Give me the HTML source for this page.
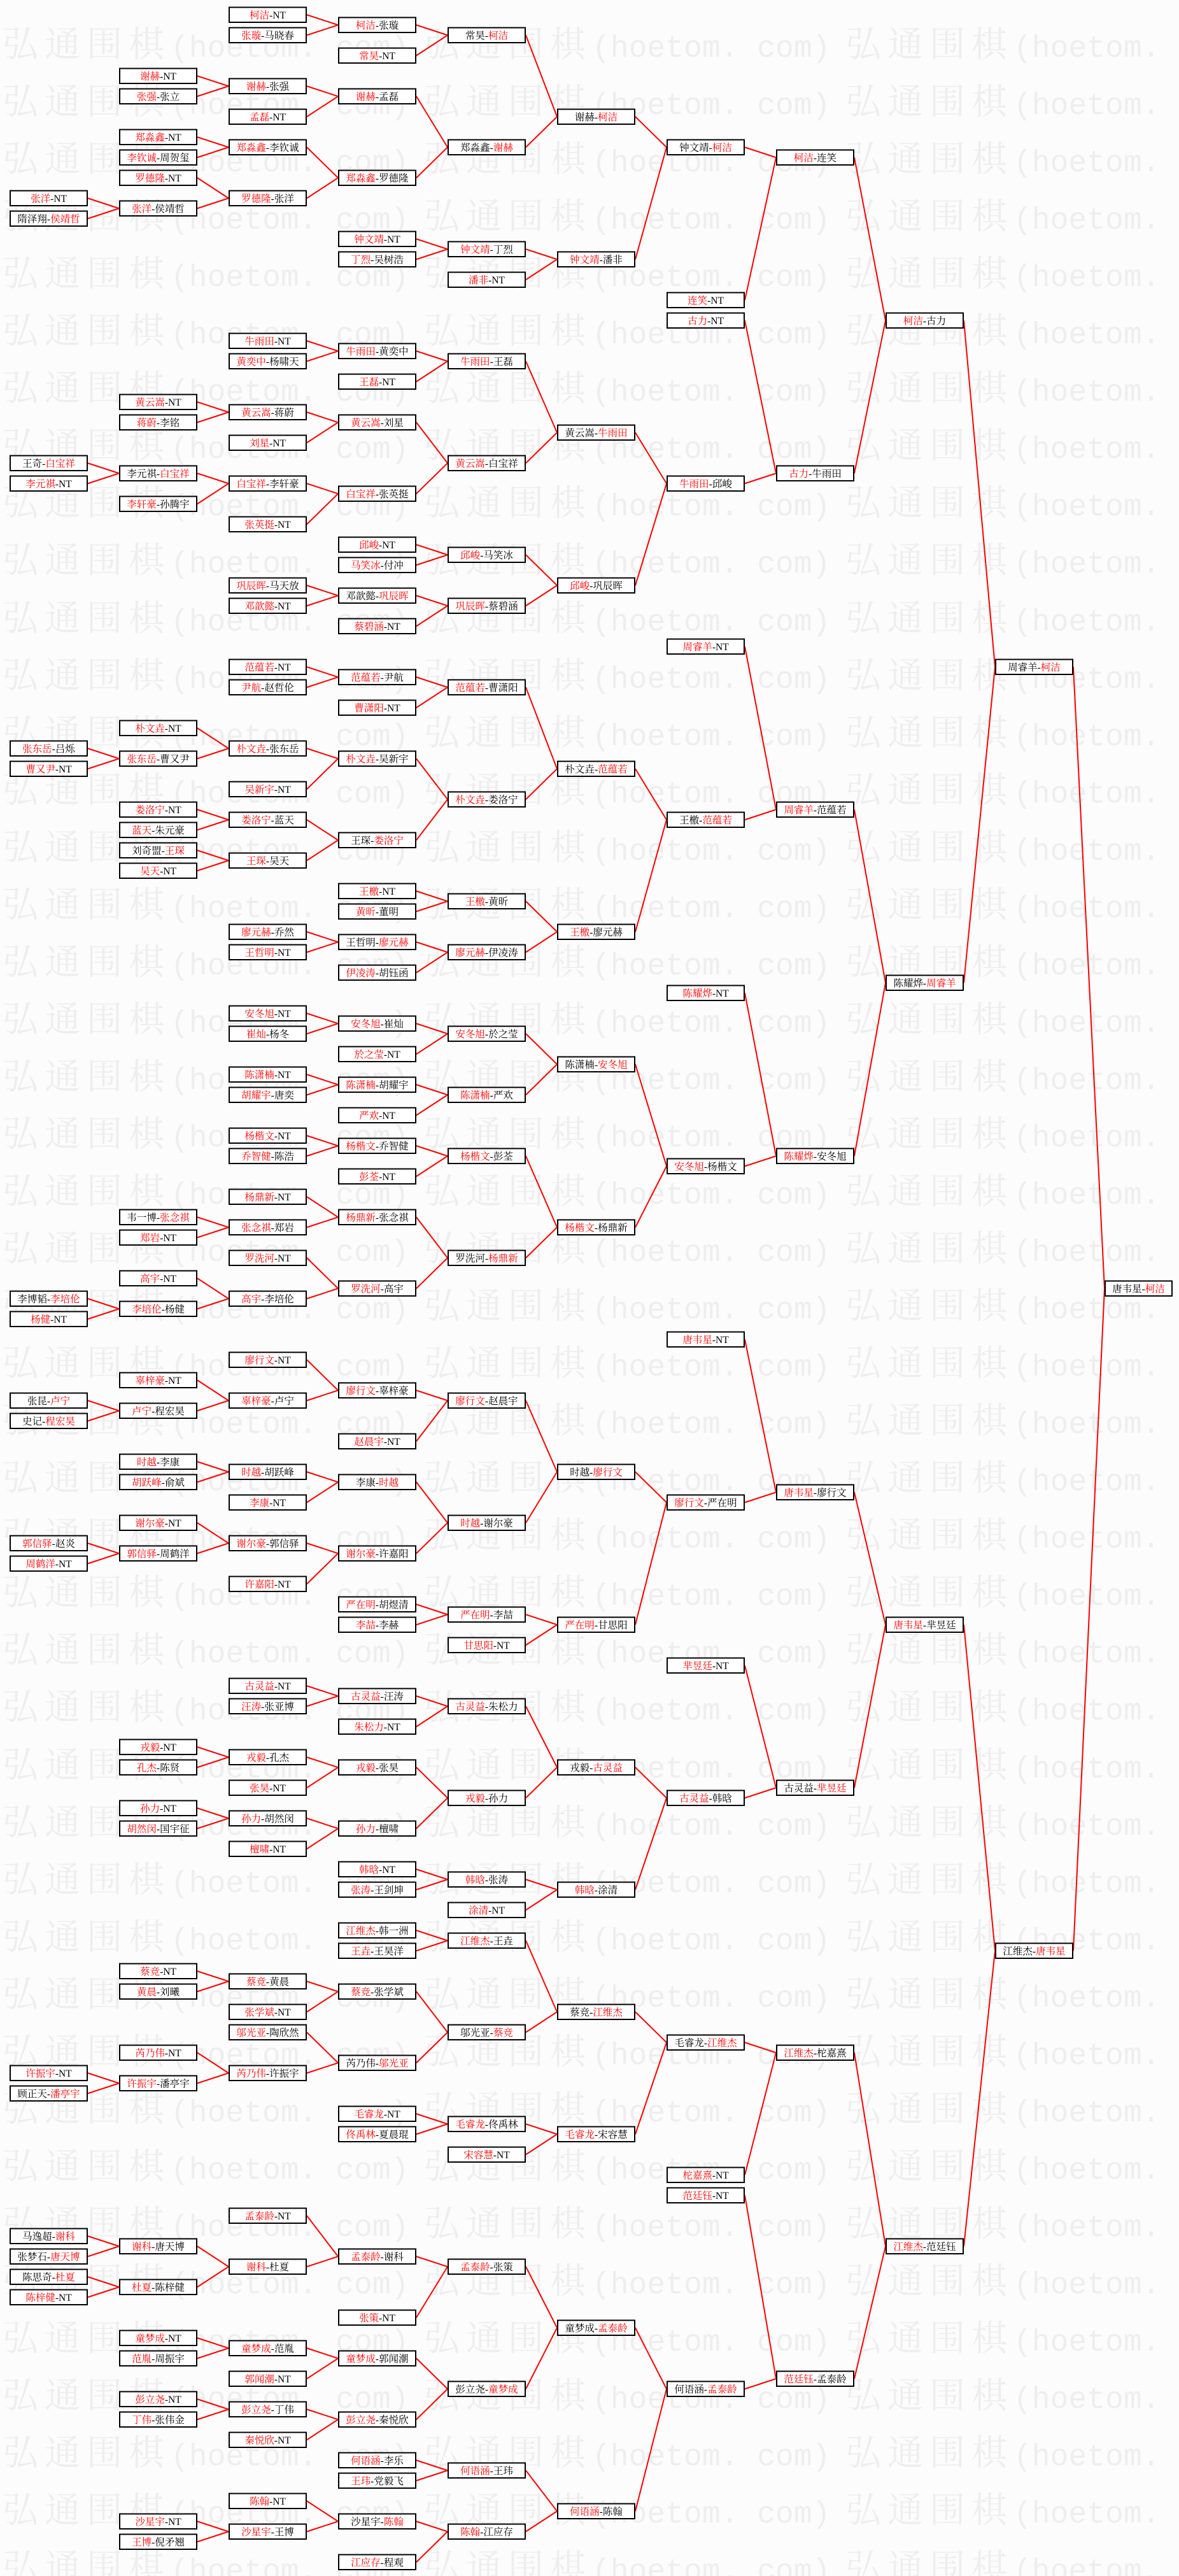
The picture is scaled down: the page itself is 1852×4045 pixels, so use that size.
<!DOCTYPE html>
<html><head><meta charset="utf-8"><style>
html,body{margin:0;padding:0;background:#fcfcfc;}
svg{display:block;}
.w{fill:#eeeeee;font-family:"Noto Serif CJK SC",serif;font-size:56px;}
.m{font-family:"Liberation Mono",monospace;font-size:48px;}
.t text{font-family:"Liberation Serif","Noto Serif CJK SC",serif;font-size:15.5px;text-anchor:middle;fill:#000;}
.t rect{fill:#fff;stroke:#000;stroke-width:2;}
.r{fill:#f00;}
</style></head><body>
<svg width="1852" height="4045" viewBox="0 0 1852 4045" xmlns="http://www.w3.org/2000/svg">
<rect x="0" y="0" width="1852" height="4045" fill="#fcfcfc"/>
<g class="w">
<text y="89"><tspan x="4 70 136 202">弘通围棋</tspan><tspan x="268" class="m">(hoetom. com)</tspan><tspan x="666 732 798 864">弘通围棋</tspan><tspan x="930" class="m">(hoetom. com)</tspan><tspan x="1328 1394 1460 1526">弘通围棋</tspan><tspan x="1592" class="m">(hoetom. com)</tspan></text>
<text y="179"><tspan x="4 70 136 202">弘通围棋</tspan><tspan x="268" class="m">(hoetom. com)</tspan><tspan x="666 732 798 864">弘通围棋</tspan><tspan x="930" class="m">(hoetom. com)</tspan><tspan x="1328 1394 1460 1526">弘通围棋</tspan><tspan x="1592" class="m">(hoetom. com)</tspan></text>
<text y="269"><tspan x="4 70 136 202">弘通围棋</tspan><tspan x="268" class="m">(hoetom. com)</tspan><tspan x="666 732 798 864">弘通围棋</tspan><tspan x="930" class="m">(hoetom. com)</tspan><tspan x="1328 1394 1460 1526">弘通围棋</tspan><tspan x="1592" class="m">(hoetom. com)</tspan></text>
<text y="359"><tspan x="4 70 136 202">弘通围棋</tspan><tspan x="268" class="m">(hoetom. com)</tspan><tspan x="666 732 798 864">弘通围棋</tspan><tspan x="930" class="m">(hoetom. com)</tspan><tspan x="1328 1394 1460 1526">弘通围棋</tspan><tspan x="1592" class="m">(hoetom. com)</tspan></text>
<text y="449"><tspan x="4 70 136 202">弘通围棋</tspan><tspan x="268" class="m">(hoetom. com)</tspan><tspan x="666 732 798 864">弘通围棋</tspan><tspan x="930" class="m">(hoetom. com)</tspan><tspan x="1328 1394 1460 1526">弘通围棋</tspan><tspan x="1592" class="m">(hoetom. com)</tspan></text>
<text y="539"><tspan x="4 70 136 202">弘通围棋</tspan><tspan x="268" class="m">(hoetom. com)</tspan><tspan x="666 732 798 864">弘通围棋</tspan><tspan x="930" class="m">(hoetom. com)</tspan><tspan x="1328 1394 1460 1526">弘通围棋</tspan><tspan x="1592" class="m">(hoetom. com)</tspan></text>
<text y="629"><tspan x="4 70 136 202">弘通围棋</tspan><tspan x="268" class="m">(hoetom. com)</tspan><tspan x="666 732 798 864">弘通围棋</tspan><tspan x="930" class="m">(hoetom. com)</tspan><tspan x="1328 1394 1460 1526">弘通围棋</tspan><tspan x="1592" class="m">(hoetom. com)</tspan></text>
<text y="719"><tspan x="4 70 136 202">弘通围棋</tspan><tspan x="268" class="m">(hoetom. com)</tspan><tspan x="666 732 798 864">弘通围棋</tspan><tspan x="930" class="m">(hoetom. com)</tspan><tspan x="1328 1394 1460 1526">弘通围棋</tspan><tspan x="1592" class="m">(hoetom. com)</tspan></text>
<text y="809"><tspan x="4 70 136 202">弘通围棋</tspan><tspan x="268" class="m">(hoetom. com)</tspan><tspan x="666 732 798 864">弘通围棋</tspan><tspan x="930" class="m">(hoetom. com)</tspan><tspan x="1328 1394 1460 1526">弘通围棋</tspan><tspan x="1592" class="m">(hoetom. com)</tspan></text>
<text y="899"><tspan x="4 70 136 202">弘通围棋</tspan><tspan x="268" class="m">(hoetom. com)</tspan><tspan x="666 732 798 864">弘通围棋</tspan><tspan x="930" class="m">(hoetom. com)</tspan><tspan x="1328 1394 1460 1526">弘通围棋</tspan><tspan x="1592" class="m">(hoetom. com)</tspan></text>
<text y="990"><tspan x="4 70 136 202">弘通围棋</tspan><tspan x="268" class="m">(hoetom. com)</tspan><tspan x="666 732 798 864">弘通围棋</tspan><tspan x="930" class="m">(hoetom. com)</tspan><tspan x="1328 1394 1460 1526">弘通围棋</tspan><tspan x="1592" class="m">(hoetom. com)</tspan></text>
<text y="1080"><tspan x="4 70 136 202">弘通围棋</tspan><tspan x="268" class="m">(hoetom. com)</tspan><tspan x="666 732 798 864">弘通围棋</tspan><tspan x="930" class="m">(hoetom. com)</tspan><tspan x="1328 1394 1460 1526">弘通围棋</tspan><tspan x="1592" class="m">(hoetom. com)</tspan></text>
<text y="1170"><tspan x="4 70 136 202">弘通围棋</tspan><tspan x="268" class="m">(hoetom. com)</tspan><tspan x="666 732 798 864">弘通围棋</tspan><tspan x="930" class="m">(hoetom. com)</tspan><tspan x="1328 1394 1460 1526">弘通围棋</tspan><tspan x="1592" class="m">(hoetom. com)</tspan></text>
<text y="1260"><tspan x="4 70 136 202">弘通围棋</tspan><tspan x="268" class="m">(hoetom. com)</tspan><tspan x="666 732 798 864">弘通围棋</tspan><tspan x="930" class="m">(hoetom. com)</tspan><tspan x="1328 1394 1460 1526">弘通围棋</tspan><tspan x="1592" class="m">(hoetom. com)</tspan></text>
<text y="1350"><tspan x="4 70 136 202">弘通围棋</tspan><tspan x="268" class="m">(hoetom. com)</tspan><tspan x="666 732 798 864">弘通围棋</tspan><tspan x="930" class="m">(hoetom. com)</tspan><tspan x="1328 1394 1460 1526">弘通围棋</tspan><tspan x="1592" class="m">(hoetom. com)</tspan></text>
<text y="1440"><tspan x="4 70 136 202">弘通围棋</tspan><tspan x="268" class="m">(hoetom. com)</tspan><tspan x="666 732 798 864">弘通围棋</tspan><tspan x="930" class="m">(hoetom. com)</tspan><tspan x="1328 1394 1460 1526">弘通围棋</tspan><tspan x="1592" class="m">(hoetom. com)</tspan></text>
<text y="1530"><tspan x="4 70 136 202">弘通围棋</tspan><tspan x="268" class="m">(hoetom. com)</tspan><tspan x="666 732 798 864">弘通围棋</tspan><tspan x="930" class="m">(hoetom. com)</tspan><tspan x="1328 1394 1460 1526">弘通围棋</tspan><tspan x="1592" class="m">(hoetom. com)</tspan></text>
<text y="1620"><tspan x="4 70 136 202">弘通围棋</tspan><tspan x="268" class="m">(hoetom. com)</tspan><tspan x="666 732 798 864">弘通围棋</tspan><tspan x="930" class="m">(hoetom. com)</tspan><tspan x="1328 1394 1460 1526">弘通围棋</tspan><tspan x="1592" class="m">(hoetom. com)</tspan></text>
<text y="1710"><tspan x="4 70 136 202">弘通围棋</tspan><tspan x="268" class="m">(hoetom. com)</tspan><tspan x="666 732 798 864">弘通围棋</tspan><tspan x="930" class="m">(hoetom. com)</tspan><tspan x="1328 1394 1460 1526">弘通围棋</tspan><tspan x="1592" class="m">(hoetom. com)</tspan></text>
<text y="1800"><tspan x="4 70 136 202">弘通围棋</tspan><tspan x="268" class="m">(hoetom. com)</tspan><tspan x="666 732 798 864">弘通围棋</tspan><tspan x="930" class="m">(hoetom. com)</tspan><tspan x="1328 1394 1460 1526">弘通围棋</tspan><tspan x="1592" class="m">(hoetom. com)</tspan></text>
<text y="1890"><tspan x="4 70 136 202">弘通围棋</tspan><tspan x="268" class="m">(hoetom. com)</tspan><tspan x="666 732 798 864">弘通围棋</tspan><tspan x="930" class="m">(hoetom. com)</tspan><tspan x="1328 1394 1460 1526">弘通围棋</tspan><tspan x="1592" class="m">(hoetom. com)</tspan></text>
<text y="1980"><tspan x="4 70 136 202">弘通围棋</tspan><tspan x="268" class="m">(hoetom. com)</tspan><tspan x="666 732 798 864">弘通围棋</tspan><tspan x="930" class="m">(hoetom. com)</tspan><tspan x="1328 1394 1460 1526">弘通围棋</tspan><tspan x="1592" class="m">(hoetom. com)</tspan></text>
<text y="2070"><tspan x="4 70 136 202">弘通围棋</tspan><tspan x="268" class="m">(hoetom. com)</tspan><tspan x="666 732 798 864">弘通围棋</tspan><tspan x="930" class="m">(hoetom. com)</tspan><tspan x="1328 1394 1460 1526">弘通围棋</tspan><tspan x="1592" class="m">(hoetom. com)</tspan></text>
<text y="2160"><tspan x="4 70 136 202">弘通围棋</tspan><tspan x="268" class="m">(hoetom. com)</tspan><tspan x="666 732 798 864">弘通围棋</tspan><tspan x="930" class="m">(hoetom. com)</tspan><tspan x="1328 1394 1460 1526">弘通围棋</tspan><tspan x="1592" class="m">(hoetom. com)</tspan></text>
<text y="2250"><tspan x="4 70 136 202">弘通围棋</tspan><tspan x="268" class="m">(hoetom. com)</tspan><tspan x="666 732 798 864">弘通围棋</tspan><tspan x="930" class="m">(hoetom. com)</tspan><tspan x="1328 1394 1460 1526">弘通围棋</tspan><tspan x="1592" class="m">(hoetom. com)</tspan></text>
<text y="2340"><tspan x="4 70 136 202">弘通围棋</tspan><tspan x="268" class="m">(hoetom. com)</tspan><tspan x="666 732 798 864">弘通围棋</tspan><tspan x="930" class="m">(hoetom. com)</tspan><tspan x="1328 1394 1460 1526">弘通围棋</tspan><tspan x="1592" class="m">(hoetom. com)</tspan></text>
<text y="2430"><tspan x="4 70 136 202">弘通围棋</tspan><tspan x="268" class="m">(hoetom. com)</tspan><tspan x="666 732 798 864">弘通围棋</tspan><tspan x="930" class="m">(hoetom. com)</tspan><tspan x="1328 1394 1460 1526">弘通围棋</tspan><tspan x="1592" class="m">(hoetom. com)</tspan></text>
<text y="2520"><tspan x="4 70 136 202">弘通围棋</tspan><tspan x="268" class="m">(hoetom. com)</tspan><tspan x="666 732 798 864">弘通围棋</tspan><tspan x="930" class="m">(hoetom. com)</tspan><tspan x="1328 1394 1460 1526">弘通围棋</tspan><tspan x="1592" class="m">(hoetom. com)</tspan></text>
<text y="2610"><tspan x="4 70 136 202">弘通围棋</tspan><tspan x="268" class="m">(hoetom. com)</tspan><tspan x="666 732 798 864">弘通围棋</tspan><tspan x="930" class="m">(hoetom. com)</tspan><tspan x="1328 1394 1460 1526">弘通围棋</tspan><tspan x="1592" class="m">(hoetom. com)</tspan></text>
<text y="2700"><tspan x="4 70 136 202">弘通围棋</tspan><tspan x="268" class="m">(hoetom. com)</tspan><tspan x="666 732 798 864">弘通围棋</tspan><tspan x="930" class="m">(hoetom. com)</tspan><tspan x="1328 1394 1460 1526">弘通围棋</tspan><tspan x="1592" class="m">(hoetom. com)</tspan></text>
<text y="2791"><tspan x="4 70 136 202">弘通围棋</tspan><tspan x="268" class="m">(hoetom. com)</tspan><tspan x="666 732 798 864">弘通围棋</tspan><tspan x="930" class="m">(hoetom. com)</tspan><tspan x="1328 1394 1460 1526">弘通围棋</tspan><tspan x="1592" class="m">(hoetom. com)</tspan></text>
<text y="2881"><tspan x="4 70 136 202">弘通围棋</tspan><tspan x="268" class="m">(hoetom. com)</tspan><tspan x="666 732 798 864">弘通围棋</tspan><tspan x="930" class="m">(hoetom. com)</tspan><tspan x="1328 1394 1460 1526">弘通围棋</tspan><tspan x="1592" class="m">(hoetom. com)</tspan></text>
<text y="2971"><tspan x="4 70 136 202">弘通围棋</tspan><tspan x="268" class="m">(hoetom. com)</tspan><tspan x="666 732 798 864">弘通围棋</tspan><tspan x="930" class="m">(hoetom. com)</tspan><tspan x="1328 1394 1460 1526">弘通围棋</tspan><tspan x="1592" class="m">(hoetom. com)</tspan></text>
<text y="3061"><tspan x="4 70 136 202">弘通围棋</tspan><tspan x="268" class="m">(hoetom. com)</tspan><tspan x="666 732 798 864">弘通围棋</tspan><tspan x="930" class="m">(hoetom. com)</tspan><tspan x="1328 1394 1460 1526">弘通围棋</tspan><tspan x="1592" class="m">(hoetom. com)</tspan></text>
<text y="3151"><tspan x="4 70 136 202">弘通围棋</tspan><tspan x="268" class="m">(hoetom. com)</tspan><tspan x="666 732 798 864">弘通围棋</tspan><tspan x="930" class="m">(hoetom. com)</tspan><tspan x="1328 1394 1460 1526">弘通围棋</tspan><tspan x="1592" class="m">(hoetom. com)</tspan></text>
<text y="3241"><tspan x="4 70 136 202">弘通围棋</tspan><tspan x="268" class="m">(hoetom. com)</tspan><tspan x="666 732 798 864">弘通围棋</tspan><tspan x="930" class="m">(hoetom. com)</tspan><tspan x="1328 1394 1460 1526">弘通围棋</tspan><tspan x="1592" class="m">(hoetom. com)</tspan></text>
<text y="3331"><tspan x="4 70 136 202">弘通围棋</tspan><tspan x="268" class="m">(hoetom. com)</tspan><tspan x="666 732 798 864">弘通围棋</tspan><tspan x="930" class="m">(hoetom. com)</tspan><tspan x="1328 1394 1460 1526">弘通围棋</tspan><tspan x="1592" class="m">(hoetom. com)</tspan></text>
<text y="3421"><tspan x="4 70 136 202">弘通围棋</tspan><tspan x="268" class="m">(hoetom. com)</tspan><tspan x="666 732 798 864">弘通围棋</tspan><tspan x="930" class="m">(hoetom. com)</tspan><tspan x="1328 1394 1460 1526">弘通围棋</tspan><tspan x="1592" class="m">(hoetom. com)</tspan></text>
<text y="3511"><tspan x="4 70 136 202">弘通围棋</tspan><tspan x="268" class="m">(hoetom. com)</tspan><tspan x="666 732 798 864">弘通围棋</tspan><tspan x="930" class="m">(hoetom. com)</tspan><tspan x="1328 1394 1460 1526">弘通围棋</tspan><tspan x="1592" class="m">(hoetom. com)</tspan></text>
<text y="3601"><tspan x="4 70 136 202">弘通围棋</tspan><tspan x="268" class="m">(hoetom. com)</tspan><tspan x="666 732 798 864">弘通围棋</tspan><tspan x="930" class="m">(hoetom. com)</tspan><tspan x="1328 1394 1460 1526">弘通围棋</tspan><tspan x="1592" class="m">(hoetom. com)</tspan></text>
<text y="3691"><tspan x="4 70 136 202">弘通围棋</tspan><tspan x="268" class="m">(hoetom. com)</tspan><tspan x="666 732 798 864">弘通围棋</tspan><tspan x="930" class="m">(hoetom. com)</tspan><tspan x="1328 1394 1460 1526">弘通围棋</tspan><tspan x="1592" class="m">(hoetom. com)</tspan></text>
<text y="3781"><tspan x="4 70 136 202">弘通围棋</tspan><tspan x="268" class="m">(hoetom. com)</tspan><tspan x="666 732 798 864">弘通围棋</tspan><tspan x="930" class="m">(hoetom. com)</tspan><tspan x="1328 1394 1460 1526">弘通围棋</tspan><tspan x="1592" class="m">(hoetom. com)</tspan></text>
<text y="3871"><tspan x="4 70 136 202">弘通围棋</tspan><tspan x="268" class="m">(hoetom. com)</tspan><tspan x="666 732 798 864">弘通围棋</tspan><tspan x="930" class="m">(hoetom. com)</tspan><tspan x="1328 1394 1460 1526">弘通围棋</tspan><tspan x="1592" class="m">(hoetom. com)</tspan></text>
<text y="3961"><tspan x="4 70 136 202">弘通围棋</tspan><tspan x="268" class="m">(hoetom. com)</tspan><tspan x="666 732 798 864">弘通围棋</tspan><tspan x="930" class="m">(hoetom. com)</tspan><tspan x="1328 1394 1460 1526">弘通围棋</tspan><tspan x="1592" class="m">(hoetom. com)</tspan></text>
<text y="4051"><tspan x="4 70 136 202">弘通围棋</tspan><tspan x="268" class="m">(hoetom. com)</tspan><tspan x="666 732 798 864">弘通围棋</tspan><tspan x="930" class="m">(hoetom. com)</tspan><tspan x="1328 1394 1460 1526">弘通围棋</tspan><tspan x="1592" class="m">(hoetom. com)</tspan></text>
</g>
<path transform="translate(0,23.25)" fill="none" stroke="#f00" stroke-width="2" d="
M138 288L187 304M138 320L187 304M138 704L187 720M138 736L187 720M138 1152L187 1168M138 1184L187 1168M138 2016L187 2032M138 2048L187 2032M138 2176L187 2192M138 2208L187 2192M138 2400L187 2416M138 2432L187 2416M138 3232L187 3248M138 3264L187 3248M138 3488L187 3504M138 3520L187 3504M138 3552L187 3568M138 3584L187 3568
M310 96L359 112M310 128L359 112M310 192L359 208M310 224L359 208M310 256L359 288M310 304L359 288M310 608L359 624M310 640L359 624M310 720L359 736M310 768L359 736M310 1120L359 1152M310 1168L359 1152M310 1248L359 1264M310 1280L359 1264M310 1312L359 1328M310 1344L359 1328M310 1888L359 1904M310 1920L359 1904M310 1984L359 2016M310 2032L359 2016M310 2144L359 2176M310 2192L359 2176M310 2272L359 2288M310 2304L359 2288M310 2368L359 2400M310 2416L359 2400M310 2720L359 2736M310 2752L359 2736M310 2816L359 2832M310 2848L359 2832M310 3072L359 3088M310 3104L359 3088M310 3200L359 3232M310 3248L359 3232M310 3504L359 3536M310 3568L359 3536M310 3648L359 3664M310 3680L359 3664M310 3744L359 3760M310 3776L359 3760M310 3936L359 3952M310 3968L359 3952
M482 0L531 16M482 32L531 16M482 112L531 128M482 160L531 128M482 208L531 256M482 288L531 256M482 512L531 528M482 544L531 528M482 624L531 640M482 672L531 640M482 736L531 752M482 800L531 752M482 896L531 912M482 928L531 912M482 1024L531 1040M482 1056L531 1040M482 1152L531 1168M482 1216L531 1168M482 1264L531 1296M482 1328L531 1296M482 1440L531 1456M482 1472L531 1456M482 1568L531 1584M482 1600L531 1584M482 1664L531 1680M482 1696L531 1680M482 1760L531 1776M482 1792L531 1776M482 1856L531 1888M482 1904L531 1888M482 1952L531 2000M482 2016L531 2000M482 2112L531 2160M482 2176L531 2160M482 2288L531 2304M482 2336L531 2304M482 2400L531 2416M482 2464L531 2416M482 2624L531 2640M482 2656L531 2640M482 2736L531 2752M482 2784L531 2752M482 2832L531 2848M482 2880L531 2848M482 3088L531 3104M482 3136L531 3104M482 3168L531 3216M482 3232L531 3216M482 3456L531 3520M482 3536L531 3520M482 3664L531 3680M482 3712L531 3680M482 3760L531 3776M482 3808L531 3776M482 3904L531 3936M482 3952L531 3936
M654 16L703 32M654 64L703 32M654 128L703 208M654 256L703 208M654 352L703 368M654 384L703 368M654 528L703 544M654 576L703 544M654 640L703 704M654 752L703 704M654 832L703 848M654 864L703 848M654 912L703 928M654 960L703 928M654 1040L703 1056M654 1088L703 1056M654 1168L703 1232M654 1296L703 1232M654 1376L703 1392M654 1408L703 1392M654 1456L703 1472M654 1504L703 1472M654 1584L703 1600M654 1632L703 1600M654 1680L703 1696M654 1728L703 1696M654 1776L703 1792M654 1824L703 1792M654 1888L703 1952M654 2000L703 1952M654 2160L703 2176M654 2240L703 2176M654 2304L703 2368M654 2416L703 2368M654 2496L703 2512M654 2528L703 2512M654 2640L703 2656M654 2688L703 2656M654 2752L703 2800M654 2848L703 2800M654 2912L703 2928M654 2944L703 2928M654 3008L703 3024M654 3040L703 3024M654 3104L703 3168M654 3216L703 3168M654 3296L703 3312M654 3328L703 3312M654 3520L703 3536M654 3616L703 3536M654 3680L703 3728M654 3776L703 3728M654 3840L703 3856M654 3872L703 3856M654 3936L703 3952M654 4000L703 3952
M826 32L875 160M826 208L875 160M826 368L875 384M826 416L875 384M826 544L875 656M826 704L875 656M826 848L875 896M826 928L875 896M826 1056L875 1184M826 1232L875 1184M826 1392L875 1440M826 1472L875 1440M826 1600L875 1648M826 1696L875 1648M826 1792L875 1904M826 1952L875 1904M826 2176L875 2288M826 2368L875 2288M826 2512L875 2528M826 2560L875 2528M826 2656L875 2752M826 2800L875 2752M826 2928L875 2944M826 2976L875 2944M826 3024L875 3136M826 3168L875 3136M826 3312L875 3328M826 3360L875 3328M826 3536L875 3632M826 3728L875 3632M826 3856L875 3920M826 3952L875 3920
M998 160L1047 208M998 384L1047 208M998 656L1047 736M998 896L1047 736M998 1184L1047 1264M998 1440L1047 1264M998 1648L1047 1808M998 1904L1047 1808M998 2288L1047 2336M998 2528L1047 2336M998 2752L1047 2800M998 2944L1047 2800M998 3136L1047 3184M998 3328L1047 3184M998 3632L1047 3728M998 3920L1047 3728
M1170 208L1219 224M1170 448L1219 224M1170 480L1219 720M1170 736L1219 720M1170 992L1219 1248M1170 1264L1219 1248M1170 1536L1219 1792M1170 1808L1219 1792M1170 2080L1219 2320M1170 2336L1219 2320M1170 2592L1219 2784M1170 2800L1219 2784M1170 3184L1219 3200M1170 3392L1219 3200M1170 3424L1219 3712M1170 3728L1219 3712
M1342 224L1391 480M1342 720L1391 480M1342 1248L1391 1520M1342 1792L1391 1520M1342 2320L1391 2528M1342 2784L1391 2528M1342 3200L1391 3504M1342 3712L1391 3504
M1514 480L1563 1024M1514 1520L1563 1024M1514 2528L1563 3040M1514 3504L1563 3040
M1686 1024L1735 2000M1686 3040L1735 2000"/>
<g class="t">
<g transform="translate(15,0)">
<g transform="translate(0,288)"><rect x="1" y="11.5" width="121" height="23.5"/><text x="61.5" y="29"><tspan class="r">张洋</tspan>-NT</text></g>
<g transform="translate(0,320)"><rect x="1" y="11.5" width="121" height="23.5"/><text x="61.5" y="29">隋泽翔-<tspan class="r">侯靖哲</tspan></text></g>
<g transform="translate(0,704)"><rect x="1" y="11.5" width="121" height="23.5"/><text x="61.5" y="29">王奇-<tspan class="r">白宝祥</tspan></text></g>
<g transform="translate(0,736)"><rect x="1" y="11.5" width="121" height="23.5"/><text x="61.5" y="29"><tspan class="r">李元祺</tspan>-NT</text></g>
<g transform="translate(0,1152)"><rect x="1" y="11.5" width="121" height="23.5"/><text x="61.5" y="29"><tspan class="r">张东岳</tspan>-吕烁</text></g>
<g transform="translate(0,1184)"><rect x="1" y="11.5" width="121" height="23.5"/><text x="61.5" y="29"><tspan class="r">曹又尹</tspan>-NT</text></g>
<g transform="translate(0,2016)"><rect x="1" y="11.5" width="121" height="23.5"/><text x="61.5" y="29">李博韬-<tspan class="r">李培伦</tspan></text></g>
<g transform="translate(0,2048)"><rect x="1" y="11.5" width="121" height="23.5"/><text x="61.5" y="29"><tspan class="r">杨健</tspan>-NT</text></g>
<g transform="translate(0,2176)"><rect x="1" y="11.5" width="121" height="23.5"/><text x="61.5" y="29">张昆-<tspan class="r">卢宁</tspan></text></g>
<g transform="translate(0,2208)"><rect x="1" y="11.5" width="121" height="23.5"/><text x="61.5" y="29">史记-<tspan class="r">程宏昊</tspan></text></g>
<g transform="translate(0,2400)"><rect x="1" y="11.5" width="121" height="23.5"/><text x="61.5" y="29"><tspan class="r">郭信驿</tspan>-赵炎</text></g>
<g transform="translate(0,2432)"><rect x="1" y="11.5" width="121" height="23.5"/><text x="61.5" y="29"><tspan class="r">周鹤洋</tspan>-NT</text></g>
<g transform="translate(0,3232)"><rect x="1" y="11.5" width="121" height="23.5"/><text x="61.5" y="29"><tspan class="r">许振宇</tspan>-NT</text></g>
<g transform="translate(0,3264)"><rect x="1" y="11.5" width="121" height="23.5"/><text x="61.5" y="29">顾正天-<tspan class="r">潘亭宇</tspan></text></g>
<g transform="translate(0,3488)"><rect x="1" y="11.5" width="121" height="23.5"/><text x="61.5" y="29">马逸超-<tspan class="r">谢科</tspan></text></g>
<g transform="translate(0,3520)"><rect x="1" y="11.5" width="121" height="23.5"/><text x="61.5" y="29">张梦石-<tspan class="r">唐天博</tspan></text></g>
<g transform="translate(0,3552)"><rect x="1" y="11.5" width="121" height="23.5"/><text x="61.5" y="29">陈思奇-<tspan class="r">杜夏</tspan></text></g>
<g transform="translate(0,3584)"><rect x="1" y="11.5" width="121" height="23.5"/><text x="61.5" y="29"><tspan class="r">陈梓健</tspan>-NT</text></g>
</g>
<g transform="translate(187,0)">
<g transform="translate(0,96)"><rect x="1" y="11.5" width="121" height="23.5"/><text x="61.5" y="29"><tspan class="r">谢赫</tspan>-NT</text></g>
<g transform="translate(0,128)"><rect x="1" y="11.5" width="121" height="23.5"/><text x="61.5" y="29"><tspan class="r">张强</tspan>-张立</text></g>
<g transform="translate(0,192)"><rect x="1" y="11.5" width="121" height="23.5"/><text x="61.5" y="29"><tspan class="r">郑淼鑫</tspan>-NT</text></g>
<g transform="translate(0,224)"><rect x="1" y="11.5" width="121" height="23.5"/><text x="61.5" y="29"><tspan class="r">李钦诚</tspan>-周贺玺</text></g>
<g transform="translate(0,256)"><rect x="1" y="11.5" width="121" height="23.5"/><text x="61.5" y="29"><tspan class="r">罗德隆</tspan>-NT</text></g>
<g transform="translate(0,304)"><rect x="1" y="11.5" width="121" height="23.5"/><text x="61.5" y="29"><tspan class="r">张洋</tspan>-侯靖哲</text></g>
<g transform="translate(0,608)"><rect x="1" y="11.5" width="121" height="23.5"/><text x="61.5" y="29"><tspan class="r">黄云嵩</tspan>-NT</text></g>
<g transform="translate(0,640)"><rect x="1" y="11.5" width="121" height="23.5"/><text x="61.5" y="29"><tspan class="r">蒋蔚</tspan>-李铭</text></g>
<g transform="translate(0,720)"><rect x="1" y="11.5" width="121" height="23.5"/><text x="61.5" y="29">李元祺-<tspan class="r">白宝祥</tspan></text></g>
<g transform="translate(0,768)"><rect x="1" y="11.5" width="121" height="23.5"/><text x="61.5" y="29"><tspan class="r">李轩豪</tspan>-孙腾宇</text></g>
<g transform="translate(0,1120)"><rect x="1" y="11.5" width="121" height="23.5"/><text x="61.5" y="29"><tspan class="r">朴文垚</tspan>-NT</text></g>
<g transform="translate(0,1168)"><rect x="1" y="11.5" width="121" height="23.5"/><text x="61.5" y="29"><tspan class="r">张东岳</tspan>-曹又尹</text></g>
<g transform="translate(0,1248)"><rect x="1" y="11.5" width="121" height="23.5"/><text x="61.5" y="29"><tspan class="r">娄洛宁</tspan>-NT</text></g>
<g transform="translate(0,1280)"><rect x="1" y="11.5" width="121" height="23.5"/><text x="61.5" y="29"><tspan class="r">蓝天</tspan>-朱元豪</text></g>
<g transform="translate(0,1312)"><rect x="1" y="11.5" width="121" height="23.5"/><text x="61.5" y="29">刘奇盟-<tspan class="r">王琛</tspan></text></g>
<g transform="translate(0,1344)"><rect x="1" y="11.5" width="121" height="23.5"/><text x="61.5" y="29"><tspan class="r">吴天</tspan>-NT</text></g>
<g transform="translate(0,1888)"><rect x="1" y="11.5" width="121" height="23.5"/><text x="61.5" y="29">韦一博-<tspan class="r">张念祺</tspan></text></g>
<g transform="translate(0,1920)"><rect x="1" y="11.5" width="121" height="23.5"/><text x="61.5" y="29"><tspan class="r">郑岩</tspan>-NT</text></g>
<g transform="translate(0,1984)"><rect x="1" y="11.5" width="121" height="23.5"/><text x="61.5" y="29"><tspan class="r">高宇</tspan>-NT</text></g>
<g transform="translate(0,2032)"><rect x="1" y="11.5" width="121" height="23.5"/><text x="61.5" y="29"><tspan class="r">李培伦</tspan>-杨健</text></g>
<g transform="translate(0,2144)"><rect x="1" y="11.5" width="121" height="23.5"/><text x="61.5" y="29"><tspan class="r">辜梓豪</tspan>-NT</text></g>
<g transform="translate(0,2192)"><rect x="1" y="11.5" width="121" height="23.5"/><text x="61.5" y="29"><tspan class="r">卢宁</tspan>-程宏昊</text></g>
<g transform="translate(0,2272)"><rect x="1" y="11.5" width="121" height="23.5"/><text x="61.5" y="29"><tspan class="r">时越</tspan>-李康</text></g>
<g transform="translate(0,2304)"><rect x="1" y="11.5" width="121" height="23.5"/><text x="61.5" y="29"><tspan class="r">胡跃峰</tspan>-俞斌</text></g>
<g transform="translate(0,2368)"><rect x="1" y="11.5" width="121" height="23.5"/><text x="61.5" y="29"><tspan class="r">谢尔豪</tspan>-NT</text></g>
<g transform="translate(0,2416)"><rect x="1" y="11.5" width="121" height="23.5"/><text x="61.5" y="29"><tspan class="r">郭信驿</tspan>-周鹤洋</text></g>
<g transform="translate(0,2720)"><rect x="1" y="11.5" width="121" height="23.5"/><text x="61.5" y="29"><tspan class="r">戎毅</tspan>-NT</text></g>
<g transform="translate(0,2752)"><rect x="1" y="11.5" width="121" height="23.5"/><text x="61.5" y="29"><tspan class="r">孔杰</tspan>-陈贤</text></g>
<g transform="translate(0,2816)"><rect x="1" y="11.5" width="121" height="23.5"/><text x="61.5" y="29"><tspan class="r">孙力</tspan>-NT</text></g>
<g transform="translate(0,2848)"><rect x="1" y="11.5" width="121" height="23.5"/><text x="61.5" y="29"><tspan class="r">胡然闵</tspan>-国宇征</text></g>
<g transform="translate(0,3072)"><rect x="1" y="11.5" width="121" height="23.5"/><text x="61.5" y="29"><tspan class="r">蔡竞</tspan>-NT</text></g>
<g transform="translate(0,3104)"><rect x="1" y="11.5" width="121" height="23.5"/><text x="61.5" y="29"><tspan class="r">黄晨</tspan>-刘曦</text></g>
<g transform="translate(0,3200)"><rect x="1" y="11.5" width="121" height="23.5"/><text x="61.5" y="29"><tspan class="r">芮乃伟</tspan>-NT</text></g>
<g transform="translate(0,3248)"><rect x="1" y="11.5" width="121" height="23.5"/><text x="61.5" y="29"><tspan class="r">许振宇</tspan>-潘亭宇</text></g>
<g transform="translate(0,3504)"><rect x="1" y="11.5" width="121" height="23.5"/><text x="61.5" y="29"><tspan class="r">谢科</tspan>-唐天博</text></g>
<g transform="translate(0,3568)"><rect x="1" y="11.5" width="121" height="23.5"/><text x="61.5" y="29"><tspan class="r">杜夏</tspan>-陈梓健</text></g>
<g transform="translate(0,3648)"><rect x="1" y="11.5" width="121" height="23.5"/><text x="61.5" y="29"><tspan class="r">童梦成</tspan>-NT</text></g>
<g transform="translate(0,3680)"><rect x="1" y="11.5" width="121" height="23.5"/><text x="61.5" y="29"><tspan class="r">范胤</tspan>-周振宇</text></g>
<g transform="translate(0,3744)"><rect x="1" y="11.5" width="121" height="23.5"/><text x="61.5" y="29"><tspan class="r">彭立尧</tspan>-NT</text></g>
<g transform="translate(0,3776)"><rect x="1" y="11.5" width="121" height="23.5"/><text x="61.5" y="29"><tspan class="r">丁伟</tspan>-张伟金</text></g>
<g transform="translate(0,3936)"><rect x="1" y="11.5" width="121" height="23.5"/><text x="61.5" y="29"><tspan class="r">沙星宇</tspan>-NT</text></g>
<g transform="translate(0,3968)"><rect x="1" y="11.5" width="121" height="23.5"/><text x="61.5" y="29"><tspan class="r">王博</tspan>-倪矛翘</text></g>
</g>
<g transform="translate(359,0)">
<g transform="translate(0,0)"><rect x="1" y="11.5" width="121" height="23.5"/><text x="61.5" y="29"><tspan class="r">柯洁</tspan>-NT</text></g>
<g transform="translate(0,32)"><rect x="1" y="11.5" width="121" height="23.5"/><text x="61.5" y="29"><tspan class="r">张璇</tspan>-马晓春</text></g>
<g transform="translate(0,112)"><rect x="1" y="11.5" width="121" height="23.5"/><text x="61.5" y="29"><tspan class="r">谢赫</tspan>-张强</text></g>
<g transform="translate(0,160)"><rect x="1" y="11.5" width="121" height="23.5"/><text x="61.5" y="29"><tspan class="r">孟磊</tspan>-NT</text></g>
<g transform="translate(0,208)"><rect x="1" y="11.5" width="121" height="23.5"/><text x="61.5" y="29"><tspan class="r">郑淼鑫</tspan>-李钦诚</text></g>
<g transform="translate(0,288)"><rect x="1" y="11.5" width="121" height="23.5"/><text x="61.5" y="29"><tspan class="r">罗德隆</tspan>-张洋</text></g>
<g transform="translate(0,512)"><rect x="1" y="11.5" width="121" height="23.5"/><text x="61.5" y="29"><tspan class="r">牛雨田</tspan>-NT</text></g>
<g transform="translate(0,544)"><rect x="1" y="11.5" width="121" height="23.5"/><text x="61.5" y="29"><tspan class="r">黄奕中</tspan>-杨啸天</text></g>
<g transform="translate(0,624)"><rect x="1" y="11.5" width="121" height="23.5"/><text x="61.5" y="29"><tspan class="r">黄云嵩</tspan>-蒋蔚</text></g>
<g transform="translate(0,672)"><rect x="1" y="11.5" width="121" height="23.5"/><text x="61.5" y="29"><tspan class="r">刘星</tspan>-NT</text></g>
<g transform="translate(0,736)"><rect x="1" y="11.5" width="121" height="23.5"/><text x="61.5" y="29"><tspan class="r">白宝祥</tspan>-李轩豪</text></g>
<g transform="translate(0,800)"><rect x="1" y="11.5" width="121" height="23.5"/><text x="61.5" y="29"><tspan class="r">张英挺</tspan>-NT</text></g>
<g transform="translate(0,896)"><rect x="1" y="11.5" width="121" height="23.5"/><text x="61.5" y="29"><tspan class="r">巩辰晖</tspan>-马天放</text></g>
<g transform="translate(0,928)"><rect x="1" y="11.5" width="121" height="23.5"/><text x="61.5" y="29"><tspan class="r">邓歆懿</tspan>-NT</text></g>
<g transform="translate(0,1024)"><rect x="1" y="11.5" width="121" height="23.5"/><text x="61.5" y="29"><tspan class="r">范蕴若</tspan>-NT</text></g>
<g transform="translate(0,1056)"><rect x="1" y="11.5" width="121" height="23.5"/><text x="61.5" y="29"><tspan class="r">尹航</tspan>-赵哲伦</text></g>
<g transform="translate(0,1152)"><rect x="1" y="11.5" width="121" height="23.5"/><text x="61.5" y="29"><tspan class="r">朴文垚</tspan>-张东岳</text></g>
<g transform="translate(0,1216)"><rect x="1" y="11.5" width="121" height="23.5"/><text x="61.5" y="29"><tspan class="r">吴新宇</tspan>-NT</text></g>
<g transform="translate(0,1264)"><rect x="1" y="11.5" width="121" height="23.5"/><text x="61.5" y="29"><tspan class="r">娄洛宁</tspan>-蓝天</text></g>
<g transform="translate(0,1328)"><rect x="1" y="11.5" width="121" height="23.5"/><text x="61.5" y="29"><tspan class="r">王琛</tspan>-吴天</text></g>
<g transform="translate(0,1440)"><rect x="1" y="11.5" width="121" height="23.5"/><text x="61.5" y="29"><tspan class="r">廖元赫</tspan>-乔然</text></g>
<g transform="translate(0,1472)"><rect x="1" y="11.5" width="121" height="23.5"/><text x="61.5" y="29"><tspan class="r">王哲明</tspan>-NT</text></g>
<g transform="translate(0,1568)"><rect x="1" y="11.5" width="121" height="23.5"/><text x="61.5" y="29"><tspan class="r">安冬旭</tspan>-NT</text></g>
<g transform="translate(0,1600)"><rect x="1" y="11.5" width="121" height="23.5"/><text x="61.5" y="29"><tspan class="r">崔灿</tspan>-杨冬</text></g>
<g transform="translate(0,1664)"><rect x="1" y="11.5" width="121" height="23.5"/><text x="61.5" y="29"><tspan class="r">陈潇楠</tspan>-NT</text></g>
<g transform="translate(0,1696)"><rect x="1" y="11.5" width="121" height="23.5"/><text x="61.5" y="29"><tspan class="r">胡耀宇</tspan>-唐奕</text></g>
<g transform="translate(0,1760)"><rect x="1" y="11.5" width="121" height="23.5"/><text x="61.5" y="29"><tspan class="r">杨楷文</tspan>-NT</text></g>
<g transform="translate(0,1792)"><rect x="1" y="11.5" width="121" height="23.5"/><text x="61.5" y="29"><tspan class="r">乔智健</tspan>-陈浩</text></g>
<g transform="translate(0,1856)"><rect x="1" y="11.5" width="121" height="23.5"/><text x="61.5" y="29"><tspan class="r">杨鼎新</tspan>-NT</text></g>
<g transform="translate(0,1904)"><rect x="1" y="11.5" width="121" height="23.5"/><text x="61.5" y="29"><tspan class="r">张念祺</tspan>-郑岩</text></g>
<g transform="translate(0,1952)"><rect x="1" y="11.5" width="121" height="23.5"/><text x="61.5" y="29"><tspan class="r">罗洗河</tspan>-NT</text></g>
<g transform="translate(0,2016)"><rect x="1" y="11.5" width="121" height="23.5"/><text x="61.5" y="29"><tspan class="r">高宇</tspan>-李培伦</text></g>
<g transform="translate(0,2112)"><rect x="1" y="11.5" width="121" height="23.5"/><text x="61.5" y="29"><tspan class="r">廖行文</tspan>-NT</text></g>
<g transform="translate(0,2176)"><rect x="1" y="11.5" width="121" height="23.5"/><text x="61.5" y="29"><tspan class="r">辜梓豪</tspan>-卢宁</text></g>
<g transform="translate(0,2288)"><rect x="1" y="11.5" width="121" height="23.5"/><text x="61.5" y="29"><tspan class="r">时越</tspan>-胡跃峰</text></g>
<g transform="translate(0,2336)"><rect x="1" y="11.5" width="121" height="23.5"/><text x="61.5" y="29"><tspan class="r">李康</tspan>-NT</text></g>
<g transform="translate(0,2400)"><rect x="1" y="11.5" width="121" height="23.5"/><text x="61.5" y="29"><tspan class="r">谢尔豪</tspan>-郭信驿</text></g>
<g transform="translate(0,2464)"><rect x="1" y="11.5" width="121" height="23.5"/><text x="61.5" y="29"><tspan class="r">许嘉阳</tspan>-NT</text></g>
<g transform="translate(0,2624)"><rect x="1" y="11.5" width="121" height="23.5"/><text x="61.5" y="29"><tspan class="r">古灵益</tspan>-NT</text></g>
<g transform="translate(0,2656)"><rect x="1" y="11.5" width="121" height="23.5"/><text x="61.5" y="29"><tspan class="r">汪涛</tspan>-张亚博</text></g>
<g transform="translate(0,2736)"><rect x="1" y="11.5" width="121" height="23.5"/><text x="61.5" y="29"><tspan class="r">戎毅</tspan>-孔杰</text></g>
<g transform="translate(0,2784)"><rect x="1" y="11.5" width="121" height="23.5"/><text x="61.5" y="29"><tspan class="r">张昊</tspan>-NT</text></g>
<g transform="translate(0,2832)"><rect x="1" y="11.5" width="121" height="23.5"/><text x="61.5" y="29"><tspan class="r">孙力</tspan>-胡然闵</text></g>
<g transform="translate(0,2880)"><rect x="1" y="11.5" width="121" height="23.5"/><text x="61.5" y="29"><tspan class="r">檀啸</tspan>-NT</text></g>
<g transform="translate(0,3088)"><rect x="1" y="11.5" width="121" height="23.5"/><text x="61.5" y="29"><tspan class="r">蔡竞</tspan>-黄晨</text></g>
<g transform="translate(0,3136)"><rect x="1" y="11.5" width="121" height="23.5"/><text x="61.5" y="29"><tspan class="r">张学斌</tspan>-NT</text></g>
<g transform="translate(0,3168)"><rect x="1" y="11.5" width="121" height="23.5"/><text x="61.5" y="29"><tspan class="r">邬光亚</tspan>-陶欣然</text></g>
<g transform="translate(0,3232)"><rect x="1" y="11.5" width="121" height="23.5"/><text x="61.5" y="29"><tspan class="r">芮乃伟</tspan>-许振宇</text></g>
<g transform="translate(0,3456)"><rect x="1" y="11.5" width="121" height="23.5"/><text x="61.5" y="29"><tspan class="r">孟泰龄</tspan>-NT</text></g>
<g transform="translate(0,3536)"><rect x="1" y="11.5" width="121" height="23.5"/><text x="61.5" y="29"><tspan class="r">谢科</tspan>-杜夏</text></g>
<g transform="translate(0,3664)"><rect x="1" y="11.5" width="121" height="23.5"/><text x="61.5" y="29"><tspan class="r">童梦成</tspan>-范胤</text></g>
<g transform="translate(0,3712)"><rect x="1" y="11.5" width="121" height="23.5"/><text x="61.5" y="29"><tspan class="r">郭闻潮</tspan>-NT</text></g>
<g transform="translate(0,3760)"><rect x="1" y="11.5" width="121" height="23.5"/><text x="61.5" y="29"><tspan class="r">彭立尧</tspan>-丁伟</text></g>
<g transform="translate(0,3808)"><rect x="1" y="11.5" width="121" height="23.5"/><text x="61.5" y="29"><tspan class="r">秦悦欣</tspan>-NT</text></g>
<g transform="translate(0,3904)"><rect x="1" y="11.5" width="121" height="23.5"/><text x="61.5" y="29"><tspan class="r">陈翰</tspan>-NT</text></g>
<g transform="translate(0,3952)"><rect x="1" y="11.5" width="121" height="23.5"/><text x="61.5" y="29"><tspan class="r">沙星宇</tspan>-王博</text></g>
</g>
<g transform="translate(531,0)">
<g transform="translate(0,16)"><rect x="1" y="11.5" width="121" height="23.5"/><text x="61.5" y="29"><tspan class="r">柯洁</tspan>-张璇</text></g>
<g transform="translate(0,64)"><rect x="1" y="11.5" width="121" height="23.5"/><text x="61.5" y="29"><tspan class="r">常昊</tspan>-NT</text></g>
<g transform="translate(0,128)"><rect x="1" y="11.5" width="121" height="23.5"/><text x="61.5" y="29"><tspan class="r">谢赫</tspan>-孟磊</text></g>
<g transform="translate(0,256)"><rect x="1" y="11.5" width="121" height="23.5"/><text x="61.5" y="29"><tspan class="r">郑淼鑫</tspan>-罗德隆</text></g>
<g transform="translate(0,352)"><rect x="1" y="11.5" width="121" height="23.5"/><text x="61.5" y="29"><tspan class="r">钟文靖</tspan>-NT</text></g>
<g transform="translate(0,384)"><rect x="1" y="11.5" width="121" height="23.5"/><text x="61.5" y="29"><tspan class="r">丁烈</tspan>-吴树浩</text></g>
<g transform="translate(0,528)"><rect x="1" y="11.5" width="121" height="23.5"/><text x="61.5" y="29"><tspan class="r">牛雨田</tspan>-黄奕中</text></g>
<g transform="translate(0,576)"><rect x="1" y="11.5" width="121" height="23.5"/><text x="61.5" y="29"><tspan class="r">王磊</tspan>-NT</text></g>
<g transform="translate(0,640)"><rect x="1" y="11.5" width="121" height="23.5"/><text x="61.5" y="29"><tspan class="r">黄云嵩</tspan>-刘星</text></g>
<g transform="translate(0,752)"><rect x="1" y="11.5" width="121" height="23.5"/><text x="61.5" y="29"><tspan class="r">白宝祥</tspan>-张英挺</text></g>
<g transform="translate(0,832)"><rect x="1" y="11.5" width="121" height="23.5"/><text x="61.5" y="29"><tspan class="r">邱峻</tspan>-NT</text></g>
<g transform="translate(0,864)"><rect x="1" y="11.5" width="121" height="23.5"/><text x="61.5" y="29"><tspan class="r">马笑冰</tspan>-付冲</text></g>
<g transform="translate(0,912)"><rect x="1" y="11.5" width="121" height="23.5"/><text x="61.5" y="29">邓歆懿-<tspan class="r">巩辰晖</tspan></text></g>
<g transform="translate(0,960)"><rect x="1" y="11.5" width="121" height="23.5"/><text x="61.5" y="29"><tspan class="r">蔡碧涵</tspan>-NT</text></g>
<g transform="translate(0,1040)"><rect x="1" y="11.5" width="121" height="23.5"/><text x="61.5" y="29"><tspan class="r">范蕴若</tspan>-尹航</text></g>
<g transform="translate(0,1088)"><rect x="1" y="11.5" width="121" height="23.5"/><text x="61.5" y="29"><tspan class="r">曹潇阳</tspan>-NT</text></g>
<g transform="translate(0,1168)"><rect x="1" y="11.5" width="121" height="23.5"/><text x="61.5" y="29"><tspan class="r">朴文垚</tspan>-吴新宇</text></g>
<g transform="translate(0,1296)"><rect x="1" y="11.5" width="121" height="23.5"/><text x="61.5" y="29">王琛-<tspan class="r">娄洛宁</tspan></text></g>
<g transform="translate(0,1376)"><rect x="1" y="11.5" width="121" height="23.5"/><text x="61.5" y="29"><tspan class="r">王檄</tspan>-NT</text></g>
<g transform="translate(0,1408)"><rect x="1" y="11.5" width="121" height="23.5"/><text x="61.5" y="29"><tspan class="r">黄昕</tspan>-董明</text></g>
<g transform="translate(0,1456)"><rect x="1" y="11.5" width="121" height="23.5"/><text x="61.5" y="29">王哲明-<tspan class="r">廖元赫</tspan></text></g>
<g transform="translate(0,1504)"><rect x="1" y="11.5" width="121" height="23.5"/><text x="61.5" y="29"><tspan class="r">伊凌涛</tspan>-胡钰函</text></g>
<g transform="translate(0,1584)"><rect x="1" y="11.5" width="121" height="23.5"/><text x="61.5" y="29"><tspan class="r">安冬旭</tspan>-崔灿</text></g>
<g transform="translate(0,1632)"><rect x="1" y="11.5" width="121" height="23.5"/><text x="61.5" y="29"><tspan class="r">於之莹</tspan>-NT</text></g>
<g transform="translate(0,1680)"><rect x="1" y="11.5" width="121" height="23.5"/><text x="61.5" y="29"><tspan class="r">陈潇楠</tspan>-胡耀宇</text></g>
<g transform="translate(0,1728)"><rect x="1" y="11.5" width="121" height="23.5"/><text x="61.5" y="29"><tspan class="r">严欢</tspan>-NT</text></g>
<g transform="translate(0,1776)"><rect x="1" y="11.5" width="121" height="23.5"/><text x="61.5" y="29"><tspan class="r">杨楷文</tspan>-乔智健</text></g>
<g transform="translate(0,1824)"><rect x="1" y="11.5" width="121" height="23.5"/><text x="61.5" y="29"><tspan class="r">彭荃</tspan>-NT</text></g>
<g transform="translate(0,1888)"><rect x="1" y="11.5" width="121" height="23.5"/><text x="61.5" y="29"><tspan class="r">杨鼎新</tspan>-张念祺</text></g>
<g transform="translate(0,2000)"><rect x="1" y="11.5" width="121" height="23.5"/><text x="61.5" y="29"><tspan class="r">罗洗河</tspan>-高宇</text></g>
<g transform="translate(0,2160)"><rect x="1" y="11.5" width="121" height="23.5"/><text x="61.5" y="29"><tspan class="r">廖行文</tspan>-辜梓豪</text></g>
<g transform="translate(0,2240)"><rect x="1" y="11.5" width="121" height="23.5"/><text x="61.5" y="29"><tspan class="r">赵晨宇</tspan>-NT</text></g>
<g transform="translate(0,2304)"><rect x="1" y="11.5" width="121" height="23.5"/><text x="61.5" y="29">李康-<tspan class="r">时越</tspan></text></g>
<g transform="translate(0,2416)"><rect x="1" y="11.5" width="121" height="23.5"/><text x="61.5" y="29"><tspan class="r">谢尔豪</tspan>-许嘉阳</text></g>
<g transform="translate(0,2496)"><rect x="1" y="11.5" width="121" height="23.5"/><text x="61.5" y="29"><tspan class="r">严在明</tspan>-胡煜清</text></g>
<g transform="translate(0,2528)"><rect x="1" y="11.5" width="121" height="23.5"/><text x="61.5" y="29"><tspan class="r">李喆</tspan>-李赫</text></g>
<g transform="translate(0,2640)"><rect x="1" y="11.5" width="121" height="23.5"/><text x="61.5" y="29"><tspan class="r">古灵益</tspan>-汪涛</text></g>
<g transform="translate(0,2688)"><rect x="1" y="11.5" width="121" height="23.5"/><text x="61.5" y="29"><tspan class="r">朱松力</tspan>-NT</text></g>
<g transform="translate(0,2752)"><rect x="1" y="11.5" width="121" height="23.5"/><text x="61.5" y="29"><tspan class="r">戎毅</tspan>-张昊</text></g>
<g transform="translate(0,2848)"><rect x="1" y="11.5" width="121" height="23.5"/><text x="61.5" y="29"><tspan class="r">孙力</tspan>-檀啸</text></g>
<g transform="translate(0,2912)"><rect x="1" y="11.5" width="121" height="23.5"/><text x="61.5" y="29"><tspan class="r">韩晗</tspan>-NT</text></g>
<g transform="translate(0,2944)"><rect x="1" y="11.5" width="121" height="23.5"/><text x="61.5" y="29"><tspan class="r">张涛</tspan>-王剑坤</text></g>
<g transform="translate(0,3008)"><rect x="1" y="11.5" width="121" height="23.5"/><text x="61.5" y="29"><tspan class="r">江维杰</tspan>-韩一洲</text></g>
<g transform="translate(0,3040)"><rect x="1" y="11.5" width="121" height="23.5"/><text x="61.5" y="29"><tspan class="r">王垚</tspan>-王昊洋</text></g>
<g transform="translate(0,3104)"><rect x="1" y="11.5" width="121" height="23.5"/><text x="61.5" y="29"><tspan class="r">蔡竞</tspan>-张学斌</text></g>
<g transform="translate(0,3216)"><rect x="1" y="11.5" width="121" height="23.5"/><text x="61.5" y="29">芮乃伟-<tspan class="r">邬光亚</tspan></text></g>
<g transform="translate(0,3296)"><rect x="1" y="11.5" width="121" height="23.5"/><text x="61.5" y="29"><tspan class="r">毛睿龙</tspan>-NT</text></g>
<g transform="translate(0,3328)"><rect x="1" y="11.5" width="121" height="23.5"/><text x="61.5" y="29"><tspan class="r">佟禹林</tspan>-夏晨琨</text></g>
<g transform="translate(0,3520)"><rect x="1" y="11.5" width="121" height="23.5"/><text x="61.5" y="29"><tspan class="r">孟泰龄</tspan>-谢科</text></g>
<g transform="translate(0,3616)"><rect x="1" y="11.5" width="121" height="23.5"/><text x="61.5" y="29"><tspan class="r">张策</tspan>-NT</text></g>
<g transform="translate(0,3680)"><rect x="1" y="11.5" width="121" height="23.5"/><text x="61.5" y="29"><tspan class="r">童梦成</tspan>-郭闻潮</text></g>
<g transform="translate(0,3776)"><rect x="1" y="11.5" width="121" height="23.5"/><text x="61.5" y="29"><tspan class="r">彭立尧</tspan>-秦悦欣</text></g>
<g transform="translate(0,3840)"><rect x="1" y="11.5" width="121" height="23.5"/><text x="61.5" y="29"><tspan class="r">何语涵</tspan>-李乐</text></g>
<g transform="translate(0,3872)"><rect x="1" y="11.5" width="121" height="23.5"/><text x="61.5" y="29"><tspan class="r">王玮</tspan>-党毅飞</text></g>
<g transform="translate(0,3936)"><rect x="1" y="11.5" width="121" height="23.5"/><text x="61.5" y="29">沙星宇-<tspan class="r">陈翰</tspan></text></g>
<g transform="translate(0,4000)"><rect x="1" y="11.5" width="121" height="23.5"/><text x="61.5" y="29"><tspan class="r">江应存</tspan>-程观</text></g>
</g>
<g transform="translate(703,0)">
<g transform="translate(0,32)"><rect x="1" y="11.5" width="121" height="23.5"/><text x="61.5" y="29">常昊-<tspan class="r">柯洁</tspan></text></g>
<g transform="translate(0,208)"><rect x="1" y="11.5" width="121" height="23.5"/><text x="61.5" y="29">郑淼鑫-<tspan class="r">谢赫</tspan></text></g>
<g transform="translate(0,368)"><rect x="1" y="11.5" width="121" height="23.5"/><text x="61.5" y="29"><tspan class="r">钟文靖</tspan>-丁烈</text></g>
<g transform="translate(0,416)"><rect x="1" y="11.5" width="121" height="23.5"/><text x="61.5" y="29"><tspan class="r">潘非</tspan>-NT</text></g>
<g transform="translate(0,544)"><rect x="1" y="11.5" width="121" height="23.5"/><text x="61.5" y="29"><tspan class="r">牛雨田</tspan>-王磊</text></g>
<g transform="translate(0,704)"><rect x="1" y="11.5" width="121" height="23.5"/><text x="61.5" y="29"><tspan class="r">黄云嵩</tspan>-白宝祥</text></g>
<g transform="translate(0,848)"><rect x="1" y="11.5" width="121" height="23.5"/><text x="61.5" y="29"><tspan class="r">邱峻</tspan>-马笑冰</text></g>
<g transform="translate(0,928)"><rect x="1" y="11.5" width="121" height="23.5"/><text x="61.5" y="29"><tspan class="r">巩辰晖</tspan>-蔡碧涵</text></g>
<g transform="translate(0,1056)"><rect x="1" y="11.5" width="121" height="23.5"/><text x="61.5" y="29"><tspan class="r">范蕴若</tspan>-曹潇阳</text></g>
<g transform="translate(0,1232)"><rect x="1" y="11.5" width="121" height="23.5"/><text x="61.5" y="29"><tspan class="r">朴文垚</tspan>-娄洛宁</text></g>
<g transform="translate(0,1392)"><rect x="1" y="11.5" width="121" height="23.5"/><text x="61.5" y="29"><tspan class="r">王檄</tspan>-黄昕</text></g>
<g transform="translate(0,1472)"><rect x="1" y="11.5" width="121" height="23.5"/><text x="61.5" y="29"><tspan class="r">廖元赫</tspan>-伊凌涛</text></g>
<g transform="translate(0,1600)"><rect x="1" y="11.5" width="121" height="23.5"/><text x="61.5" y="29"><tspan class="r">安冬旭</tspan>-於之莹</text></g>
<g transform="translate(0,1696)"><rect x="1" y="11.5" width="121" height="23.5"/><text x="61.5" y="29"><tspan class="r">陈潇楠</tspan>-严欢</text></g>
<g transform="translate(0,1792)"><rect x="1" y="11.5" width="121" height="23.5"/><text x="61.5" y="29"><tspan class="r">杨楷文</tspan>-彭荃</text></g>
<g transform="translate(0,1952)"><rect x="1" y="11.5" width="121" height="23.5"/><text x="61.5" y="29">罗洗河-<tspan class="r">杨鼎新</tspan></text></g>
<g transform="translate(0,2176)"><rect x="1" y="11.5" width="121" height="23.5"/><text x="61.5" y="29"><tspan class="r">廖行文</tspan>-赵晨宇</text></g>
<g transform="translate(0,2368)"><rect x="1" y="11.5" width="121" height="23.5"/><text x="61.5" y="29"><tspan class="r">时越</tspan>-谢尔豪</text></g>
<g transform="translate(0,2512)"><rect x="1" y="11.5" width="121" height="23.5"/><text x="61.5" y="29"><tspan class="r">严在明</tspan>-李喆</text></g>
<g transform="translate(0,2560)"><rect x="1" y="11.5" width="121" height="23.5"/><text x="61.5" y="29"><tspan class="r">甘思阳</tspan>-NT</text></g>
<g transform="translate(0,2656)"><rect x="1" y="11.5" width="121" height="23.5"/><text x="61.5" y="29"><tspan class="r">古灵益</tspan>-朱松力</text></g>
<g transform="translate(0,2800)"><rect x="1" y="11.5" width="121" height="23.5"/><text x="61.5" y="29"><tspan class="r">戎毅</tspan>-孙力</text></g>
<g transform="translate(0,2928)"><rect x="1" y="11.5" width="121" height="23.5"/><text x="61.5" y="29"><tspan class="r">韩晗</tspan>-张涛</text></g>
<g transform="translate(0,2976)"><rect x="1" y="11.5" width="121" height="23.5"/><text x="61.5" y="29"><tspan class="r">涂清</tspan>-NT</text></g>
<g transform="translate(0,3024)"><rect x="1" y="11.5" width="121" height="23.5"/><text x="61.5" y="29"><tspan class="r">江维杰</tspan>-王垚</text></g>
<g transform="translate(0,3168)"><rect x="1" y="11.5" width="121" height="23.5"/><text x="61.5" y="29">邬光亚-<tspan class="r">蔡竞</tspan></text></g>
<g transform="translate(0,3312)"><rect x="1" y="11.5" width="121" height="23.5"/><text x="61.5" y="29"><tspan class="r">毛睿龙</tspan>-佟禹林</text></g>
<g transform="translate(0,3360)"><rect x="1" y="11.5" width="121" height="23.5"/><text x="61.5" y="29"><tspan class="r">宋容慧</tspan>-NT</text></g>
<g transform="translate(0,3536)"><rect x="1" y="11.5" width="121" height="23.5"/><text x="61.5" y="29"><tspan class="r">孟泰龄</tspan>-张策</text></g>
<g transform="translate(0,3728)"><rect x="1" y="11.5" width="121" height="23.5"/><text x="61.5" y="29">彭立尧-<tspan class="r">童梦成</tspan></text></g>
<g transform="translate(0,3856)"><rect x="1" y="11.5" width="121" height="23.5"/><text x="61.5" y="29"><tspan class="r">何语涵</tspan>-王玮</text></g>
<g transform="translate(0,3952)"><rect x="1" y="11.5" width="121" height="23.5"/><text x="61.5" y="29"><tspan class="r">陈翰</tspan>-江应存</text></g>
</g>
<g transform="translate(875,0)">
<g transform="translate(0,160)"><rect x="1" y="11.5" width="121" height="23.5"/><text x="61.5" y="29">谢赫-<tspan class="r">柯洁</tspan></text></g>
<g transform="translate(0,384)"><rect x="1" y="11.5" width="121" height="23.5"/><text x="61.5" y="29"><tspan class="r">钟文靖</tspan>-潘非</text></g>
<g transform="translate(0,656)"><rect x="1" y="11.5" width="121" height="23.5"/><text x="61.5" y="29">黄云嵩-<tspan class="r">牛雨田</tspan></text></g>
<g transform="translate(0,896)"><rect x="1" y="11.5" width="121" height="23.5"/><text x="61.5" y="29"><tspan class="r">邱峻</tspan>-巩辰晖</text></g>
<g transform="translate(0,1184)"><rect x="1" y="11.5" width="121" height="23.5"/><text x="61.5" y="29">朴文垚-<tspan class="r">范蕴若</tspan></text></g>
<g transform="translate(0,1440)"><rect x="1" y="11.5" width="121" height="23.5"/><text x="61.5" y="29"><tspan class="r">王檄</tspan>-廖元赫</text></g>
<g transform="translate(0,1648)"><rect x="1" y="11.5" width="121" height="23.5"/><text x="61.5" y="29">陈潇楠-<tspan class="r">安冬旭</tspan></text></g>
<g transform="translate(0,1904)"><rect x="1" y="11.5" width="121" height="23.5"/><text x="61.5" y="29"><tspan class="r">杨楷文</tspan>-杨鼎新</text></g>
<g transform="translate(0,2288)"><rect x="1" y="11.5" width="121" height="23.5"/><text x="61.5" y="29">时越-<tspan class="r">廖行文</tspan></text></g>
<g transform="translate(0,2528)"><rect x="1" y="11.5" width="121" height="23.5"/><text x="61.5" y="29"><tspan class="r">严在明</tspan>-甘思阳</text></g>
<g transform="translate(0,2752)"><rect x="1" y="11.5" width="121" height="23.5"/><text x="61.5" y="29">戎毅-<tspan class="r">古灵益</tspan></text></g>
<g transform="translate(0,2944)"><rect x="1" y="11.5" width="121" height="23.5"/><text x="61.5" y="29"><tspan class="r">韩晗</tspan>-涂清</text></g>
<g transform="translate(0,3136)"><rect x="1" y="11.5" width="121" height="23.5"/><text x="61.5" y="29">蔡竞-<tspan class="r">江维杰</tspan></text></g>
<g transform="translate(0,3328)"><rect x="1" y="11.5" width="121" height="23.5"/><text x="61.5" y="29"><tspan class="r">毛睿龙</tspan>-宋容慧</text></g>
<g transform="translate(0,3632)"><rect x="1" y="11.5" width="121" height="23.5"/><text x="61.5" y="29">童梦成-<tspan class="r">孟泰龄</tspan></text></g>
<g transform="translate(0,3920)"><rect x="1" y="11.5" width="121" height="23.5"/><text x="61.5" y="29"><tspan class="r">何语涵</tspan>-陈翰</text></g>
</g>
<g transform="translate(1047,0)">
<g transform="translate(0,208)"><rect x="1" y="11.5" width="121" height="23.5"/><text x="61.5" y="29">钟文靖-<tspan class="r">柯洁</tspan></text></g>
<g transform="translate(0,448)"><rect x="1" y="11.5" width="121" height="23.5"/><text x="61.5" y="29"><tspan class="r">连笑</tspan>-NT</text></g>
<g transform="translate(0,480)"><rect x="1" y="11.5" width="121" height="23.5"/><text x="61.5" y="29"><tspan class="r">古力</tspan>-NT</text></g>
<g transform="translate(0,736)"><rect x="1" y="11.5" width="121" height="23.5"/><text x="61.5" y="29"><tspan class="r">牛雨田</tspan>-邱峻</text></g>
<g transform="translate(0,992)"><rect x="1" y="11.5" width="121" height="23.5"/><text x="61.5" y="29"><tspan class="r">周睿羊</tspan>-NT</text></g>
<g transform="translate(0,1264)"><rect x="1" y="11.5" width="121" height="23.5"/><text x="61.5" y="29">王檄-<tspan class="r">范蕴若</tspan></text></g>
<g transform="translate(0,1536)"><rect x="1" y="11.5" width="121" height="23.5"/><text x="61.5" y="29"><tspan class="r">陈耀烨</tspan>-NT</text></g>
<g transform="translate(0,1808)"><rect x="1" y="11.5" width="121" height="23.5"/><text x="61.5" y="29"><tspan class="r">安冬旭</tspan>-杨楷文</text></g>
<g transform="translate(0,2080)"><rect x="1" y="11.5" width="121" height="23.5"/><text x="61.5" y="29"><tspan class="r">唐韦星</tspan>-NT</text></g>
<g transform="translate(0,2336)"><rect x="1" y="11.5" width="121" height="23.5"/><text x="61.5" y="29"><tspan class="r">廖行文</tspan>-严在明</text></g>
<g transform="translate(0,2592)"><rect x="1" y="11.5" width="121" height="23.5"/><text x="61.5" y="29"><tspan class="r">芈昱廷</tspan>-NT</text></g>
<g transform="translate(0,2800)"><rect x="1" y="11.5" width="121" height="23.5"/><text x="61.5" y="29"><tspan class="r">古灵益</tspan>-韩晗</text></g>
<g transform="translate(0,3184)"><rect x="1" y="11.5" width="121" height="23.5"/><text x="61.5" y="29">毛睿龙-<tspan class="r">江维杰</tspan></text></g>
<g transform="translate(0,3392)"><rect x="1" y="11.5" width="121" height="23.5"/><text x="61.5" y="29"><tspan class="r">柁嘉熹</tspan>-NT</text></g>
<g transform="translate(0,3424)"><rect x="1" y="11.5" width="121" height="23.5"/><text x="61.5" y="29"><tspan class="r">范廷钰</tspan>-NT</text></g>
<g transform="translate(0,3728)"><rect x="1" y="11.5" width="121" height="23.5"/><text x="61.5" y="29">何语涵-<tspan class="r">孟泰龄</tspan></text></g>
</g>
<g transform="translate(1219,0)">
<g transform="translate(0,224)"><rect x="1" y="11.5" width="121" height="23.5"/><text x="61.5" y="29"><tspan class="r">柯洁</tspan>-连笑</text></g>
<g transform="translate(0,720)"><rect x="1" y="11.5" width="121" height="23.5"/><text x="61.5" y="29"><tspan class="r">古力</tspan>-牛雨田</text></g>
<g transform="translate(0,1248)"><rect x="1" y="11.5" width="121" height="23.5"/><text x="61.5" y="29"><tspan class="r">周睿羊</tspan>-范蕴若</text></g>
<g transform="translate(0,1792)"><rect x="1" y="11.5" width="121" height="23.5"/><text x="61.5" y="29"><tspan class="r">陈耀烨</tspan>-安冬旭</text></g>
<g transform="translate(0,2320)"><rect x="1" y="11.5" width="121" height="23.5"/><text x="61.5" y="29"><tspan class="r">唐韦星</tspan>-廖行文</text></g>
<g transform="translate(0,2784)"><rect x="1" y="11.5" width="121" height="23.5"/><text x="61.5" y="29">古灵益-<tspan class="r">芈昱廷</tspan></text></g>
<g transform="translate(0,3200)"><rect x="1" y="11.5" width="121" height="23.5"/><text x="61.5" y="29"><tspan class="r">江维杰</tspan>-柁嘉熹</text></g>
<g transform="translate(0,3712)"><rect x="1" y="11.5" width="121" height="23.5"/><text x="61.5" y="29"><tspan class="r">范廷钰</tspan>-孟泰龄</text></g>
</g>
<g transform="translate(1391,0)">
<g transform="translate(0,480)"><rect x="1" y="11.5" width="121" height="23.5"/><text x="61.5" y="29"><tspan class="r">柯洁</tspan>-古力</text></g>
<g transform="translate(0,1520)"><rect x="1" y="11.5" width="121" height="23.5"/><text x="61.5" y="29">陈耀烨-<tspan class="r">周睿羊</tspan></text></g>
<g transform="translate(0,2528)"><rect x="1" y="11.5" width="121" height="23.5"/><text x="61.5" y="29"><tspan class="r">唐韦星</tspan>-芈昱廷</text></g>
<g transform="translate(0,3504)"><rect x="1" y="11.5" width="121" height="23.5"/><text x="61.5" y="29"><tspan class="r">江维杰</tspan>-范廷钰</text></g>
</g>
<g transform="translate(1563,0)">
<g transform="translate(0,1024)"><rect x="1" y="11.5" width="121" height="23.5"/><text x="61.5" y="29">周睿羊-<tspan class="r">柯洁</tspan></text></g>
<g transform="translate(0,3040)"><rect x="1" y="11.5" width="121" height="23.5"/><text x="61.5" y="29">江维杰-<tspan class="r">唐韦星</tspan></text></g>
</g>
<g transform="translate(1735,0)">
<g transform="translate(0,2000)"><rect x="1" y="11.5" width="105" height="23.5"/><text x="53.5" y="29">唐韦星-<tspan class="r">柯洁</tspan></text></g>
</g>
</g>
</svg>
</body></html>
